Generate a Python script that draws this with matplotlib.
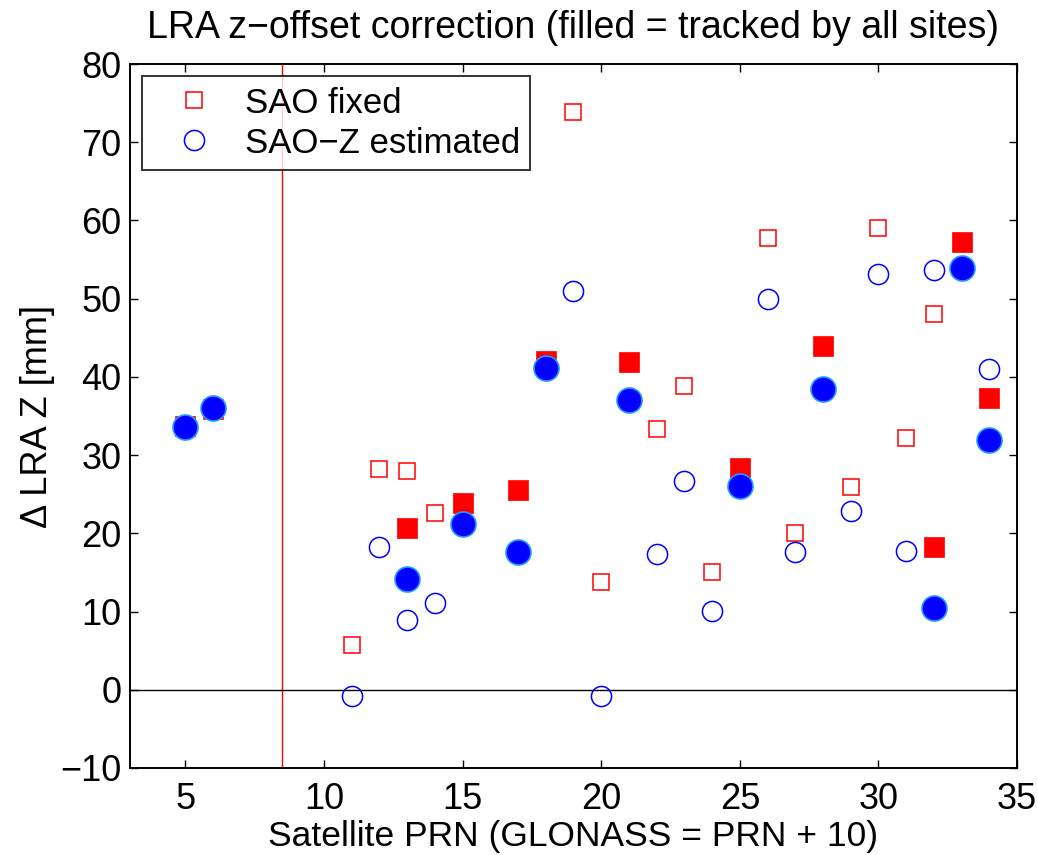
import matplotlib
matplotlib.use("Agg")
import matplotlib.pyplot as plt

plt.rcParams["font.family"] = ["Liberation Sans", "DejaVu Sans"]

# SAO fixed, not tracked by all sites (open squares)
fix_open_prn = [11, 12, 13, 14, 19, 20, 22, 23, 24, 26, 27, 29, 30, 31, 32]
fix_open_dz = [5.7, 28.2, 28.0, 22.6, 73.9, 13.8, 33.4, 38.8, 15.1, 57.7, 20.1, 25.9, 59.0, 32.2, 48.1]

# SAO fixed, tracked by all sites (filled squares)
fix_all_prn = [5, 6, 13, 15, 17, 18, 21, 25, 28, 32, 33, 34]
fix_all_dz = [33.7, 35.9, 20.7, 23.9, 25.5, 42.0, 41.9, 28.4, 44.0, 18.3, 57.3, 37.3]

# SAO-Z estimated, not tracked by all sites (open circles)
est_open_prn = [11, 12, 13, 14, 19, 20, 22, 23, 24, 26, 27, 29, 30, 31, 32, 34]
est_open_dz = [-0.8, 18.3, 8.9, 11.1, 51.0, -0.8, 17.4, 26.7, 10.1, 49.9, 17.6, 22.8, 53.1, 17.7, 53.7, 41.0]

# SAO-Z estimated, tracked by all sites (filled circles)
est_all_prn = [5, 6, 13, 15, 17, 18, 21, 25, 28, 32, 33, 34]
est_all_dz = [33.6, 36.0, 14.1, 21.2, 17.6, 41.1, 37.0, 26.1, 38.5, 10.5, 53.9, 31.9]

fig = plt.figure(figsize=(10.38, 8.55), dpi=100)
ax = fig.add_axes([0.1252, 0.1018, 0.8546, 0.8233])

ax.axvline(8.5, color="red", linewidth=1.0, zorder=1)
ax.axhline(0, color="black", linewidth=1.0, zorder=1)

ax.plot(fix_open_prn, fix_open_dz, "s", markersize=11.5, markerfacecolor="none",
        markeredgecolor="red", markeredgewidth=1.1, label="SAO fixed", zorder=3)
ax.plot(est_open_prn, est_open_dz, "o", markersize=14.5, markerfacecolor="none",
        markeredgecolor="blue", markeredgewidth=1.1, label="SAO−Z estimated", zorder=3)
ax.plot(fix_all_prn, fix_all_dz, "s", markersize=15, color="red",
        markeredgecolor="red", markeredgewidth=0.5, zorder=4)
ax.plot(est_all_prn, est_all_dz, "o", markersize=18, color="blue",
        markeredgecolor="#1f9bff", markeredgewidth=1.2, zorder=5)

ax.set_xlim(3, 35)
ax.set_ylim(-10, 80)
ax.set_xticks([5, 10, 15, 20, 25, 30, 35])
ax.set_yticks(range(-10, 81, 10))
ax.tick_params(direction="in", length=6, width=1.0, top=True, right=True, labelsize=26)
ax.tick_params(axis="x", pad=10)
ax.tick_params(axis="y", pad=6)
for s in ax.spines.values():
    s.set_linewidth(1.4)

ax.set_title("LRA z−offset correction (filled = tracked by all sites)", fontsize=27, pad=19)
ax.set_xlabel("Satellite PRN (GLONASS = PRN + 10)", fontsize=25.5, labelpad=2)
ax.set_ylabel("Δ LRA Z [mm]", fontsize=26, labelpad=4)

leg = ax.legend(loc="upper left", fontsize=25, frameon=True, fancybox=False,
                edgecolor="black", borderpad=0.3, handletextpad=0.25, handlelength=2.4,
                borderaxespad=0.35, labelspacing=0.2)
leg.get_frame().set_linewidth(1.4)

fig.savefig("out.png", dpi=100)
